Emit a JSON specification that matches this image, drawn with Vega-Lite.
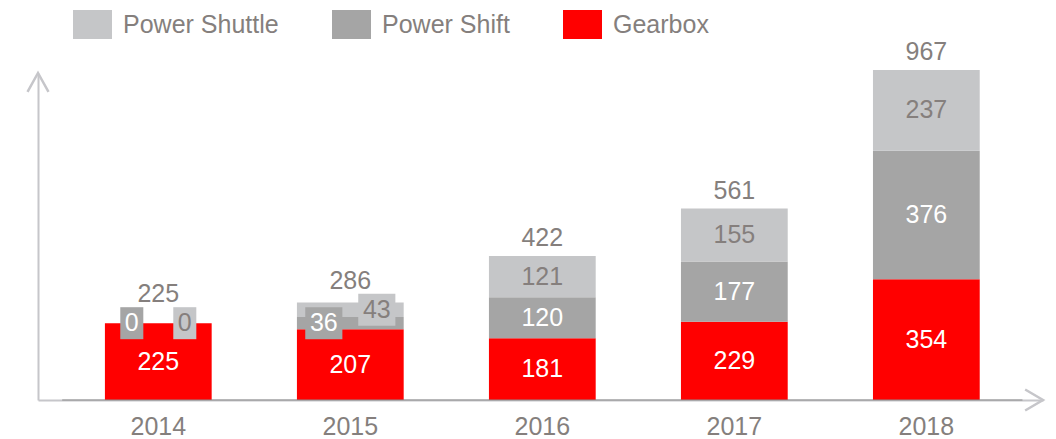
{
  "$schema": "https://vega.github.io/schema/vega-lite/v6.json",
  "width": 1005,
  "height": 327,
  "autosize": {"type": "none"},
  "padding": {"left": 38, "top": 73, "right": 13, "bottom": 39},
  "background": "white",
  "config": {"view": {"stroke": null}, "font": "Liberation Sans, Arial, sans-serif"},
  "resolve": {"scale": {"x": "independent"}, "axis": {"x": "independent"}},
  "layer": [
    {
      "data": {"values": [
        {"year": "2014", "series": "Gearbox", "value": 225},
        {"year": "2014", "series": "Power Shift", "value": 0},
        {"year": "2014", "series": "Power Shuttle", "value": 0},
        {"year": "2015", "series": "Gearbox", "value": 207},
        {"year": "2015", "series": "Power Shift", "value": 36},
        {"year": "2015", "series": "Power Shuttle", "value": 43},
        {"year": "2016", "series": "Gearbox", "value": 181},
        {"year": "2016", "series": "Power Shift", "value": 120},
        {"year": "2016", "series": "Power Shuttle", "value": 121},
        {"year": "2017", "series": "Gearbox", "value": 229},
        {"year": "2017", "series": "Power Shift", "value": 177},
        {"year": "2017", "series": "Power Shuttle", "value": 155},
        {"year": "2018", "series": "Gearbox", "value": 354},
        {"year": "2018", "series": "Power Shift", "value": 376},
        {"year": "2018", "series": "Power Shuttle", "value": 237}
      ]},
      "transform": [
        {"calculate": "indexof(['Gearbox','Power Shift','Power Shuttle'], datum.series)", "as": "ord"},
        {"stack": "value", "groupby": ["year"], "sort": [{"field": "ord", "order": "ascending"}], "as": ["v0", "v1"]},
        {"calculate": "(datum.v0 + datum.v1) / 2", "as": "mid"}
      ],
      "encoding": {
        "x": {
          "field": "year", "type": "nominal",
          "scale": {"paddingInner": 0.444, "paddingOuter": 0.339, "align": 0.514},
          "axis": {"title": null, "domainColor": "#c6c6ca", "domainWidth": 2, "ticks": false, "tickSize": 0, "grid": false,
                   "labelFontSize": 25, "labelColor": "#857f7d", "labelAngle": 0, "labelPadding": 34, "labelBaseline": "alphabetic"}
        }
      },
      "layer": [
        {
          "mark": {"type": "bar"},
          "encoding": {
            "y": {"field": "v0", "type": "quantitative", "scale": {"domain": [0, 958], "nice": false, "zero": true},
                  "axis": {"title": null, "domainColor": "#c6c6ca", "domainWidth": 2, "ticks": false, "labels": false, "grid": false}},
            "y2": {"field": "v1"},
            "color": {
              "field": "series", "type": "nominal",
              "scale": {"domain": ["Power Shuttle", "Power Shift", "Gearbox"], "range": ["#c5c6c8", "#a5a5a5", "#ff0000"]},
              "legend": {"orient": "none", "legendX": 35, "legendY": -68, "direction": "horizontal", "title": null,
                         "symbolType": "M-1,-0.74H1V0.74H-1Z", "symbolSize": 1521, "symbolStrokeWidth": 0, "symbolOpacity": 1,
                         "labelFontSize": 25, "labelColor": "#857f7d", "labelOffset": 11, "columnPadding": 53, "padding": 0,
                         "labelLimit": 400}
            }
          }
        },
        {
          "transform": [{"filter": "datum.series === 'Gearbox' && datum.year === '2014'"}, {"calculate": "'2018'", "as": "lastYear"}],
          "mark": {"type": "rule", "color": "#8c8c8c", "strokeWidth": 1.2},
          "encoding": {
            "x": {"field": "year", "type": "nominal", "bandPosition": -0.4},
            "x2": {"field": "lastYear", "bandPosition": 1.4},
            "y": {"datum": 0, "type": "quantitative"}
          }
        },
        {
          "transform": [{"filter": "!(datum.value < 50 && datum.series !== 'Gearbox')"}],
          "mark": {"type": "text", "fontSize": 25, "baseline": "middle"},
          "encoding": {
            "y": {"field": "mid", "type": "quantitative"},
            "text": {"field": "value", "type": "quantitative"},
            "color": {"condition": {"test": "datum.series === 'Power Shuttle'", "value": "#857f7d"}, "value": "#ffffff"}
          }
        },
        {
          "transform": [{"filter": "datum.value < 50 && datum.series === 'Power Shift'"}],
          "mark": {"type": "point", "filled": true, "opacity": 1, "size": 1024, "xOffset": -26.5, "color": "#a5a5a5"},
          "encoding": {
            "y": {"field": "mid", "type": "quantitative"},
            "shape": {"condition": {"test": "datum.value < 10", "value": "M-0.72,-1H0.72V1H-0.72Z"}, "value": "M-1.16,-1H1.16V1H-1.16Z"}
          }
        },
        {
          "transform": [{"filter": "datum.value < 50 && datum.series === 'Power Shuttle'"}],
          "mark": {"type": "point", "filled": true, "opacity": 1, "size": 1024, "xOffset": 26.5, "color": "#c5c6c8"},
          "encoding": {
            "y": {"field": "mid", "type": "quantitative"},
            "shape": {"condition": {"test": "datum.value < 10", "value": "M-0.72,-1H0.72V1H-0.72Z"}, "value": "M-1.16,-1H1.16V1H-1.16Z"}
          }
        },
        {
          "transform": [{"filter": "datum.value < 50 && datum.series === 'Power Shift'"}],
          "mark": {"type": "text", "fontSize": 25, "baseline": "middle", "dx": -26.5, "color": "#ffffff"},
          "encoding": {
            "y": {"field": "mid", "type": "quantitative"},
            "text": {"field": "value", "type": "quantitative"}
          }
        },
        {
          "transform": [{"filter": "datum.value < 50 && datum.series === 'Power Shuttle'"}],
          "mark": {"type": "text", "fontSize": 25, "baseline": "middle", "dx": 26.5, "color": "#857f7d"},
          "encoding": {
            "y": {"field": "mid", "type": "quantitative"},
            "text": {"field": "value", "type": "quantitative"}
          }
        },
        {
          "transform": [
            {"calculate": "datum.value < 50 && datum.series !== 'Gearbox' ? datum.mid + 33.7 : datum.v1", "as": "labelTop"},
            {"aggregate": [{"op": "sum", "field": "value", "as": "total"}, {"op": "max", "field": "labelTop", "as": "labelY"}], "groupby": ["year"]}
          ],
          "mark": {"type": "text", "fontSize": 25, "baseline": "alphabetic", "dy": -9.5, "color": "#857f7d"},
          "encoding": {
            "y": {"field": "labelY", "type": "quantitative"},
            "text": {"field": "total", "type": "quantitative"}
          }
        }
      ]
    },
    {
      "data": {"values": [{}]},
      "mark": {"type": "point", "shape": "M-1,1.8L0,0L1,1.8", "filled": false, "opacity": 1, "stroke": "#c6c6ca", "strokeWidth": 2.5, "size": 441},
      "encoding": {
        "x": {"datum": 0, "type": "quantitative", "scale": {"domain": [0, 1], "nice": false, "zero": false}, "axis": null},
        "y": {"datum": 958, "type": "quantitative"}
      }
    },
    {
      "data": {"values": [{}]},
      "mark": {"type": "point", "shape": "M-1.7,-1L0,0L-1.7,1", "filled": false, "opacity": 1, "stroke": "#c6c6ca", "strokeWidth": 2.5, "size": 441},
      "encoding": {
        "x": {"datum": 1, "type": "quantitative", "scale": {"domain": [0, 1], "nice": false, "zero": false}, "axis": null},
        "y": {"datum": 0, "type": "quantitative"}
      }
    }
  ]
}
